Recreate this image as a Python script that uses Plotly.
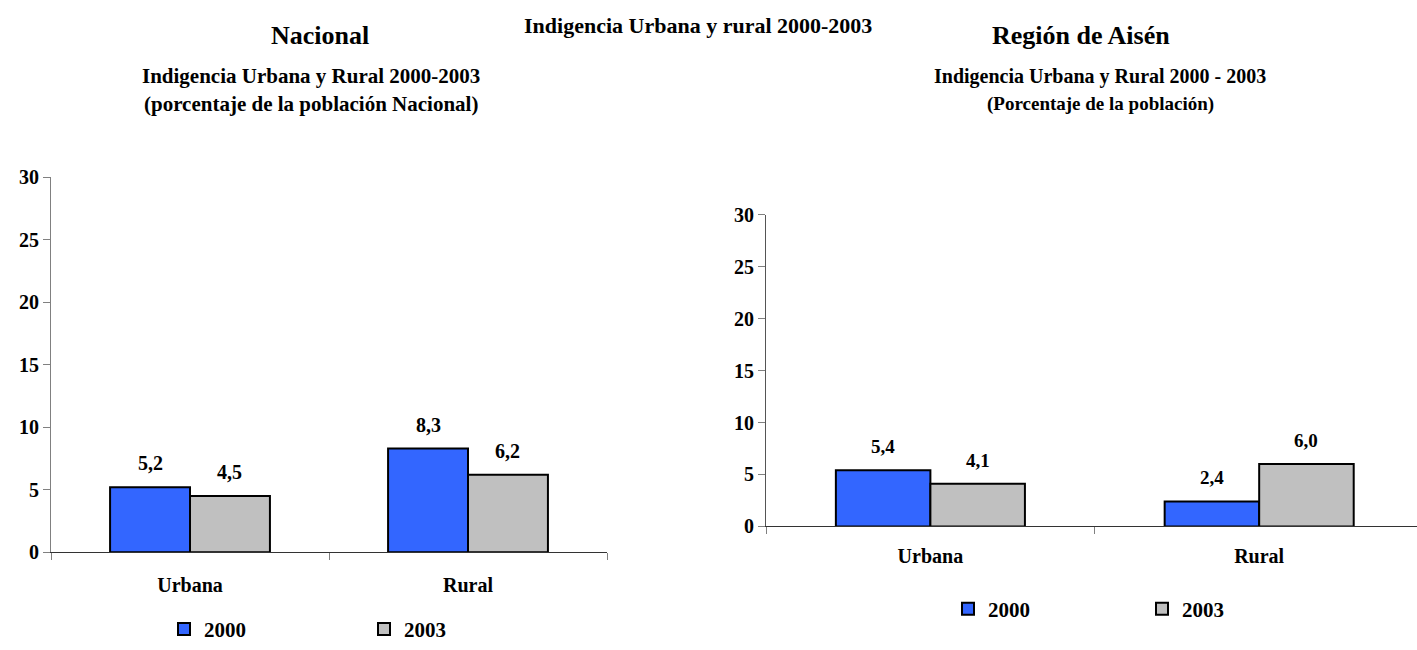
import plotly.graph_objects as go

W, H = 1417, 650

categories = ["Urbana", "Rural"]
years = ["2000", "2003"]
nacional_2000 = [5.2, 8.3]
nacional_2003 = [4.5, 6.2]
aisen_2000 = [5.4, 2.4]
aisen_2003 = [4.1, 6.0]
y_ticks = [0, 5, 10, 15, 20, 25, 30]

BLUE = "#3366FF"
GRAY = "#C0C0C0"
FONT = "Liberation Serif"
BARGAP = 0.425


def px_x(p):
    return p / W


def px_y(p):
    return 1 - p / H


def lab(v):
    return f"{v:.1f}".replace(".", ",")


fig = go.Figure()

series = [
    ("x", "y", "legend", nacional_2000, nacional_2003),
    ("x2", "y2", "legend2", aisen_2000, aisen_2003),
]
for xa, ya, lg, s00, s03 in series:
    for name, vals, col in ((years[0], s00, BLUE), (years[1], s03, GRAY)):
        fig.add_trace(go.Bar(
            x=categories, y=vals, name=name, xaxis=xa, yaxis=ya, legend=lg,
            marker=dict(color=col, line=dict(color="black", width=2)),
            hoverinfo="x+y",
        ))

# value labels above bars
half = (1 - BARGAP) / 4
annotations = []
for xa, ya, s00, s03, fs in (("x", "y", nacional_2000, nacional_2003, 20),
                             ("x2", "y2", aisen_2000, aisen_2003, 19)):
    for i in range(len(categories)):
        for off, vals in ((-half, s00), (half, s03)):
            annotations.append(dict(
                x=i + off, y=vals[i], xref=xa, yref=ya, text=lab(vals[i]),
                showarrow=False, yanchor="bottom", yshift=11,
                font=dict(family=FONT, size=fs, color="black", weight="bold"),
            ))


def title(text, xp, yp, size, yanchor="middle"):
    return dict(text=text, x=px_x(xp), y=px_y(yp), xref="paper", yref="paper",
                showarrow=False, xanchor="center", yanchor=yanchor,
                font=dict(family=FONT, size=size, color="black", weight="bold"))


annotations += [
    title("Indigencia Urbana y rural 2000-2003", 698, 0, 22, yanchor="top"),
    title("Nacional", 320, 25, 26),
    title("Indigencia Urbana y Rural 2000-2003", 311, 68, 21),
    title("(porcentaje de la población Nacional)", 311, 97, 21),
    title("Región de Aisén", 1081, 25, 26),
    title("Indigencia Urbana y Rural 2000 - 2003", 1100, 68, 20),
    title("(Porcentaje de la población)", 1100, 97, 19),
]

tickfont = dict(family=FONT, size=20, color="black", weight="bold")

xcommon = dict(type="category", showline=True, linewidth=1, ticks="outside",
               tickson="boundaries", ticklen=7, tickcolor="#808080",
               showgrid=False, zeroline=False, tickfont=tickfont,
               fixedrange=True)
ycommon = dict(range=[0, 30], tickvals=y_ticks, showline=True, linewidth=1,
               ticks="outside", ticklen=7, tickcolor="#808080", showgrid=False,
               zeroline=False, tickfont=tickfont, fixedrange=True)

legfont = dict(family=FONT, size=21, color="black", weight="bold")

fig.update_layout(
    width=W, height=H,
    margin=dict(l=0, r=0, t=0, b=0),
    paper_bgcolor="white", plot_bgcolor="white",
    barmode="group", bargap=BARGAP, bargroupgap=0,
    xaxis=dict(domain=[px_x(51), px_x(607)], range=[-0.5, 1.5], anchor="y",
               linecolor="#333333", ticklabelstandoff=15, **xcommon),
    yaxis=dict(domain=[px_y(563), px_y(173)], anchor="x", linecolor="#808080",
               **ycommon),
    xaxis2=dict(domain=[px_x(766), 1.0], range=[-0.5, 1.48], anchor="y2",
                linecolor="#333333", ticklabelstandoff=12, **xcommon),
    yaxis2=dict(domain=[px_y(536), px_y(212)], anchor="x2", linecolor="#555555",
                **ycommon),
    legend=dict(orientation="h", x=px_x(164), y=px_y(643), xanchor="left",
                yanchor="middle", font=legfont, entrywidth=155,
                bgcolor="rgba(0,0,0,0)", traceorder="normal"),
    legend2=dict(orientation="h", x=px_x(948), y=px_y(622), xanchor="left",
                 yanchor="middle", font=legfont, entrywidth=149,
                 bgcolor="rgba(0,0,0,0)", traceorder="normal"),
    annotations=annotations,
    showlegend=True,
)

fig.write_html(
    "out.html",
    config={"displayModeBar": False},
    post_script="document.body.style.margin='0';document.body.style.overflow='hidden';",
)
